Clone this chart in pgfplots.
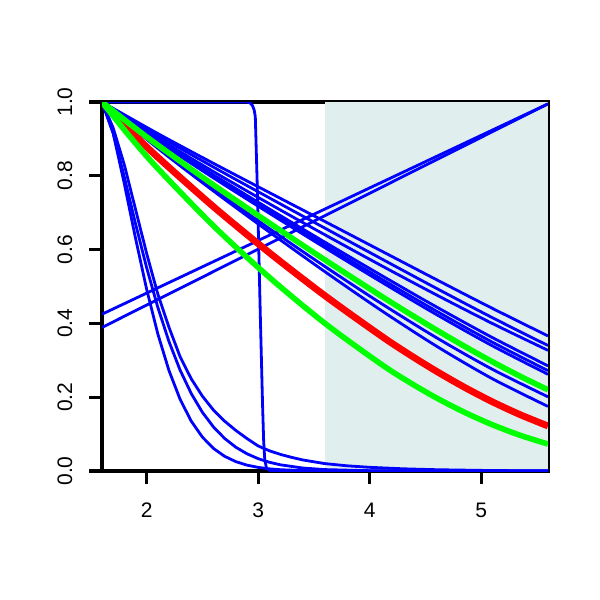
\documentclass[border=0pt]{standalone}
\usepackage{fontspec}
\setmainfont{Liberation Sans}
\usepackage{pgfplots}
\pgfplotsset{compat=1.18}
\definecolor{shadec}{RGB}{224,238,238}
\definecolor{rblue}{RGB}{0,0,255}
\definecolor{rgreen}{RGB}{0,255,0}
\definecolor{rred}{RGB}{255,0,0}
\begin{document}
\begin{tikzpicture}
\useasboundingbox (-51pt,-64.5pt) rectangle (249pt,235.5pt);
\begin{axis}[
  scale only axis, width=223pt, height=184.5pt,
  xmin=1.6, xmax=5.6, ymin=0, ymax=1,
  clip mode=individual,
  axis line style={draw=none},
  tick pos=left, tick align=outside,
  major tick length=6.25pt,
  tick style={line width=1.6pt, black},
  xtick={2,3,4,5}, ytick={0,0.2,0.4,0.6,0.8,1},
  /pgf/number format/assume math mode=true,
  tick label style={font=\fontsize{10.5}{12}\selectfont},
  xticklabel shift=6pt,
  yticklabel shift=5pt,
  yticklabel style={rotate=90, anchor=south, /pgf/number format/fixed, /pgf/number format/fixed zerofill, /pgf/number format/precision=1},
  blue/.style={rblue, line width=1.4pt},
]
\draw[line width=1.6pt, black] (axis cs:1.6,0) rectangle (axis cs:5.6,1);
\fill[shadec] (axis cs:3.6,0) rectangle (axis cs:5.6,1);
% step curve
\addplot[blue] coordinates {(1.6,1)(2.9,1)(2.93,0.997)(2.95,0.99)(2.965,0.978)(2.975,0.96)(2.99,0.8)(3.0,0.68)(3.01,0.55)(3.02,0.42)(3.03,0.3)(3.04,0.18)(3.05,0.08)(3.06,0.03)(3.075,0.008)(3.1,0.002)(3.2,0)(5.6,0)};
% fast decays
\addplot[blue] coordinates {(1.6,1)(1.7,0.9154)(1.8,0.7788)(1.9,0.6318)(2.0,0.4931)(2.1,0.3722)(2.2,0.2728)(2.3,0.1946)(2.4,0.1353)(2.5,0.0920)(2.6,0.0611)(2.7,0.0398)(2.8,0.0254)(2.9,0.0159)(3.0,0.0098)(3.1,0.0059)(3.2,0.0035)(3.4,0.0012)(3.6,0.0004)(4.0,0)(5.6,0)};
\addplot[blue] coordinates {(1.6,1)(1.7,0.917)(1.8,0.7968)(1.9,0.671)(2.0,0.5514)(2.1,0.4441)(2.2,0.3514)(2.3,0.2737)(2.4,0.2102)(2.5,0.1592)(2.6,0.1192)(2.7,0.0882)(2.8,0.0645)(2.9,0.0467)(3.0,0.0335)(3.1,0.0238)(3.2,0.0168)(3.4,0.0081)(3.6,0.0038)(4.0,0.0008)(4.6,0.0001)(5.6,0)};
\addplot[blue] coordinates {(1.6,1)(1.7,0.93)(1.8,0.83)(1.9,0.71)(2.0,0.59)(2.1,0.48)(2.2,0.39)(2.3,0.31)(2.4,0.25)(2.5,0.203)(2.6,0.165)(2.7,0.135)(2.8,0.11)(2.9,0.088)(3.0,0.068)(3.1,0.055)(3.2,0.045)(3.3,0.037)(3.4,0.03)(3.5,0.025)(3.6,0.02)(3.8,0.014)(4.0,0.01)(4.3,0.006)(4.6,0.0035)(5.1,0.0012)(5.6,0.0003)};
% increasing lines
\addplot[blue] coordinates {(1.6,0.425)(5.6,0.995)};
\addplot[blue] coordinates {(1.6,0.389)(5.6,0.995)};
% decreasing blue curves
\addplot[blue, smooth] coordinates {(1.6,1)(2.1,0.9146)(2.6,0.8337)(3.1,0.7546)(3.6,0.676)(4.1,0.5972)(4.6,0.5185)(5.1,0.4409)(5.6,0.366)};
\addplot[blue, smooth] coordinates {(1.6,1)(2.1,0.9092)(2.6,0.8235)(3.1,0.7403)(3.6,0.658)(4.1,0.5761)(4.6,0.4949)(5.1,0.4157)(5.6,0.340)};
\addplot[blue, smooth] coordinates {(1.6,1)(2.1,0.9023)(2.6,0.8113)(3.1,0.7244)(3.6,0.640)(4.1,0.5575)(4.6,0.4772)(5.1,0.3999)(5.6,0.327)};
\addplot[blue, smooth] coordinates {(1.6,1)(2.1,0.8978)(2.6,0.8023)(3.1,0.7103)(3.6,0.620)(4.1,0.5312)(4.6,0.4446)(5.1,0.3618)(5.6,0.285)};
\addplot[blue, smooth] coordinates {(1.6,1)(2.1,0.8956)(2.6,0.7981)(3.1,0.7042)(3.6,0.612)(4.1,0.5214)(4.6,0.4332)(5.1,0.3493)(5.6,0.272)};
\addplot[blue, smooth] coordinates {(1.6,1)(2.1,0.8935)(2.6,0.7942)(3.1,0.6987)(3.6,0.605)(4.1,0.5131)(4.6,0.4239)(5.1,0.3394)(5.6,0.262)};
\addplot[blue, smooth] coordinates {(1.6,1)(2.1,0.8771)(2.6,0.7643)(3.1,0.6572)(3.6,0.554)(4.1,0.4548)(4.6,0.3612)(5.1,0.2758)(5.6,0.201)};
\addplot[blue, smooth] coordinates {(1.6,1)(2.1,0.8745)(2.6,0.7587)(3.1,0.6478)(3.6,0.540)(4.1,0.4360)(4.6,0.3383)(5.1,0.2502)(5.6,0.175)};
% red
\addplot[rred, line width=3.4pt, smooth] coordinates {(1.6,1)(1.85,0.9227)(2.1,0.8504)(2.6,0.7162)(3.1,0.5918)(3.6,0.475)(4.1,0.3669)(4.35,0.3169)(4.6,0.2702)(4.85,0.2270)(5.1,0.1877)(5.35,0.1527)(5.6,0.122)};
% greens
\addplot[rgreen, line width=2.8pt, smooth] coordinates {(1.6,1)(1.85,0.9402)(2.1,0.8833)(2.6,0.7753)(3.1,0.6722)(3.6,0.572)(4.1,0.4748)(4.35,0.4278)(4.6,0.3821)(4.85,0.3382)(5.1,0.2963)(5.35,0.2568)(5.6,0.220)};
\addplot[rgreen, line width=2.8pt, smooth] coordinates {(1.6,1)(1.85,0.9063)(2.1,0.820)(2.6,0.6642)(3.1,0.525)(3.6,0.400)(4.1,0.2902)(4.35,0.2417)(4.6,0.198)(4.85,0.1592)(5.1,0.1255)(5.35,0.0968)(5.6,0.073)};
\end{axis}
\end{tikzpicture}
\end{document}
